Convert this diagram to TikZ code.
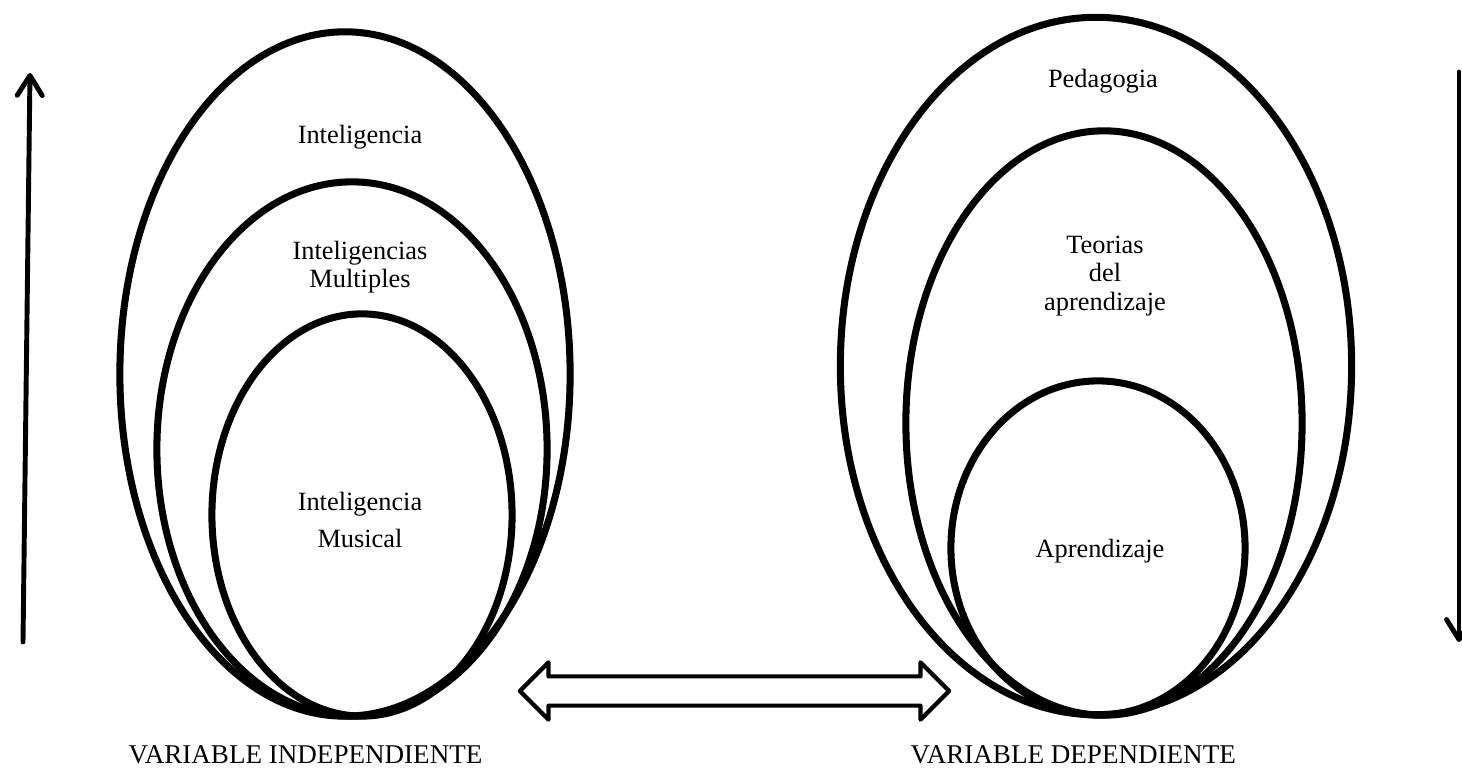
\documentclass[tikz,border=0pt]{standalone}
\usepackage{fontspec}
\setmainfont{Liberation Serif}
\usetikzlibrary{arrows.meta}
\usetikzlibrary{shapes.geometric}
\usetikzlibrary{shapes.arrows}

\begin{document}
\begin{tikzpicture}[x=0.01cm,y=-0.01cm,
    oval/.style={shape=ellipse,draw=black,line width=2pt,inner sep=0pt},
    txt/.style={font=\fontsize{7.5}{8.2}\selectfont,align=center,inner sep=0pt},
    vartxt/.style={font=\fontsize{7.7}{9}\selectfont,inner sep=0pt},
    vert/.style={line width=1.4pt,line cap=round,-{Straight Barb[length=2mm,width=2.5mm,round]}}]

    \useasboundingbox (0,0) rectangle (1462,776);

    % Independent variable ovals
    \node[oval,minimum width=4.50cm,minimum height=6.84cm] (I1) at (345,374) {};
    \node[oval,minimum width=3.90cm,minimum height=5.34cm] (I2) at (352,449) {};
    \node[oval,minimum width=3.00cm,minimum height=4.02cm] (I3) at (362,515) {};

    % Dependent variable ovals
    \node[oval,minimum width=5.11cm,minimum height=6.97cm] (D1) at (1096,366) {};
    \node[oval,minimum width=3.96cm,minimum height=5.84cm] (D2) at (1104,423) {};
    \node[oval,minimum width=2.94cm,minimum height=3.34cm] (D3) at (1098,548) {};

    % Texts inside
    \node[txt] (tI1) at (360,137) {Inteligencia};
    \node[txt,font=\fontsize{7.5}{6.6}\selectfont] (tI2) at (360,267) {Inteligencias\\Multiples};
    \node[txt,font=\fontsize{7.5}{10.7}\selectfont] (tI3) at (360,520) {Inteligencia\\Musical};
    \node[txt] (tD1) at (1103,81) {Pedagogia};
    \node[txt] (tD2) at (1105,276) {Teorias\\del\\aprendizaje};
    \node[txt] (tD3) at (1100,551) {Aprendizaje};

    % Captions
    \node[vartxt,anchor=west] (vI) at (128,755) {VARIABLE INDEPENDIENTE};
    \node[vartxt,anchor=west] (vD) at (910,755) {VARIABLE DEPENDIENTE};

    % Link between the two variables
    \node[double arrow,draw=black,line width=1.2pt,line join=round,
          double arrow head extend=0.14cm,minimum height=4.29cm,
          inner sep=0pt,text height=0.25cm,text depth=0pt] (link) at (734.5,691) {};

    % Side arrows
    \coordinate (lowL) at (23,642);
    \coordinate (topL) at (30,73);
    \coordinate (topR) at (1459,72);
    \coordinate (lowR) at (1459,642);
    \draw[vert] (lowL) -- (topL);
    \draw[vert] (topR) -- (lowR);

\end{tikzpicture}
\end{document}
